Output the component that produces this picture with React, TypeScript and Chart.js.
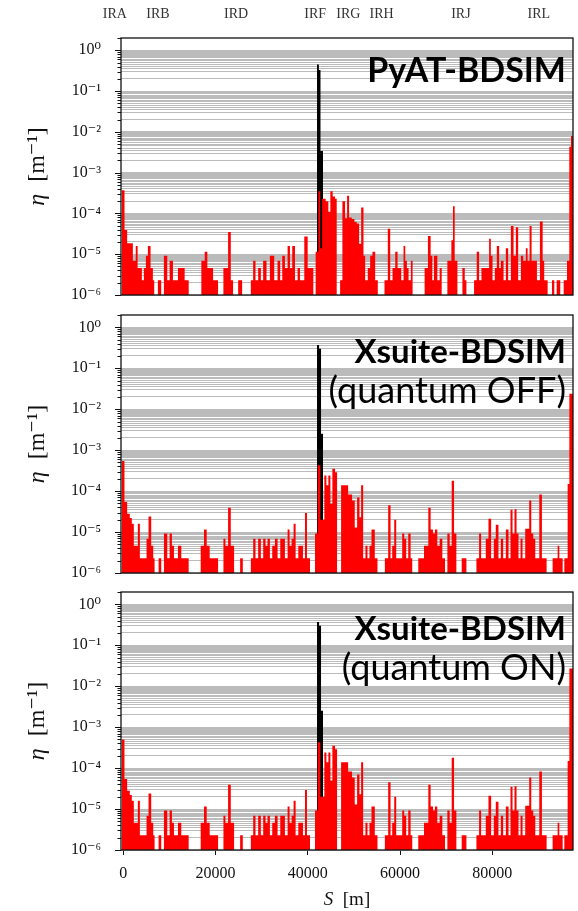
import React, { useEffect, useRef } from 'react';
import { Chart, registerables } from 'chart.js';

Chart.register(...registerables);

const X_MIN = -500;
const X_MAX = 97500;
const Y_MIN = 1e-6;
const Y_MAX = 2;

const xTickValues = [0, 20000, 40000, 60000, 80000];
const yTickValues = [1e-6, 1e-5, 1e-4, 1e-3, 1e-2, 1e-1, 1];
const yTickLabels = ['10⁻⁶', '10⁻⁵', '10⁻⁴', '10⁻³', '10⁻²', '10⁻¹', '10⁰'];
const gridFactors = [1, 2, 3, 3.5, 4, 4.5, 5, 5.5, 6, 6.5, 7, 7.5, 8, 8.5, 9, 9.5];
const irLabels = ['IRA', 'IRB', 'IRD', 'IRF', 'IRG', 'IRH', 'IRJ', 'IRL'];
const irPositions = [-1850, 7500, 24460, 41600, 48800, 56000, 73200, 90100];

// Panel 1 (PyAT-BDSIM): step edges in km, value held from each edge to the next
const red1Edges = [-0.30, 0.26, 0.83, 2.07, 2.70, 3.10, 4.02, 4.46, 4.90, 5.33,
  5.91, 6.41, 6.70, 7.50, 8.22, 8.80, 9.53, 10.04, 10.76, 11.85,
  13.30, 14.18, 16.92, 17.65, 18.22, 19.46, 20.54, 21.70, 22.72, 23.30,
  23.80, 24.90, 25.76, 27.65, 28.15, 28.66, 29.24, 29.82, 30.32, 31.05,
  31.78, 32.72, 33.44, 34.02, 34.46, 35.04, 35.62, 36.13, 36.63, 37.22,
  37.79, 38.30, 39.24, 39.97, 41.20, 41.70, 42.28, 42.70, 43.10, 43.88,
  44.46, 44.89, 45.40, 45.91, 46.27, 47.00, 47.50, 48.08, 48.52, 48.95,
  49.53, 50.11, 50.61, 51.13, 51.57, 52.07, 52.44, 53.00, 53.52, 54.02,
  54.61, 55.18, 56.63, 57.35, 57.87, 58.37, 58.96, 59.46, 60.26, 60.76,
  61.13, 61.48, 61.85, 62.35, 62.72, 65.33, 66.05, 66.63, 67.00, 67.35,
  68.09, 68.59, 69.03, 70.26, 71.13, 71.48, 71.85, 72.44, 73.52, 74.03,
  74.39, 76.05, 76.63, 77.14, 77.65, 79.31, 79.68, 80.05, 80.55, 80.98,
  81.49, 81.85, 82.44, 82.94, 83.44, 84.03, 84.61, 85.11, 85.61, 86.20,
  86.70, 87.28, 87.65, 88.09, 88.52, 89.68, 90.33, 90.92, 91.26, 92.00,
  92.94, 93.44, 93.96, 94.74, 95.48, 96.20, 96.70, 97.07, 97.50];
const red1Values = [3.7e-4, 3.9e-5, 1.85e-5, 6.9e-6, 1.6e-5, 4.6e-6, 2.3e-6, 4.6e-6, 9.2e-6, 1.6e-5,
  4.6e-6, 2.3e-6, 0, 2.3e-6, 0, 9.2e-6, 2.3e-6, 6.9e-6, 2.3e-6, 4.6e-6,
  2.3e-6, 0, 6.9e-6, 1.15e-5, 4.6e-6, 2.3e-6, 0, 4.6e-6, 3.5e-5, 2.3e-6,
  0, 2.3e-6, 0, 2.3e-6, 6.9e-6, 2.3e-6, 4.6e-6, 2.3e-6, 6.9e-6, 2.3e-6,
  9.2e-6, 2.3e-6, 6.9e-6, 2.3e-6, 9.2e-6, 4.6e-6, 1.6e-5, 4.6e-6, 1.6e-5, 2.3e-6,
  4.6e-6, 2.3e-6, 2.7e-5, 4.6e-6, 0, 1.15e-5, 3.5e-4, 1.4e-5, 2.3e-4, 2.0e-4,
  1.1e-4, 3.5e-4, 2.6e-4, 2.3e-4, 0, 2.3e-6, 2.0e-4, 7.6e-5, 2.7e-4, 8.0e-5,
  7.3e-5, 6.2e-5, 5.7e-5, 1.8e-5, 1.4e-4, 9.2e-6, 2.3e-6, 4.6e-6, 9.2e-6, 1.15e-5,
  2.3e-6, 0, 2.3e-6, 4.2e-5, 2.3e-6, 4.6e-6, 1.15e-5, 4.6e-6, 2.3e-6, 1.6e-5,
  6.9e-6, 4.6e-6, 2.3e-6, 6.9e-6, 0, 4.6e-6, 2.8e-5, 9.2e-6, 2.3e-6, 9.2e-6,
  2.3e-6, 4.6e-6, 0, 6.9e-6, 2.2e-5, 1.5e-4, 6.9e-6, 0, 4.6e-6, 2.3e-6,
  0, 2.3e-6, 1.15e-5, 2.3e-6, 4.6e-6, 2.4e-5, 9.2e-6, 2.3e-6, 4.6e-6, 1.6e-5,
  4.6e-6, 6.9e-6, 2.3e-6, 1.4e-5, 2.3e-6, 4.9e-5, 9.2e-6, 4.6e-5, 2.3e-6, 9.2e-6,
  6.9e-6, 1.4e-5, 6.9e-6, 4.9e-5, 6.9e-6, 2.3e-6, 6.3e-5, 6.9e-6, 2.3e-6, 0,
  2.3e-6, 0, 2.3e-6, 0, 2.3e-6, 6.9e-6, 4.3e-3, 7.9e-3, 0];
const black1Edges = [42.0, 42.4, 42.75, 43.3];
const black1Values = [0.45, 0.33, 3.4e-3, 0];

// Panel 2 (Xsuite-BDSIM, quantum OFF)
const red2Edges = [-0.33, 0.25, 0.83, 1.41, 1.85, 2.28, 3.15, 3.59, 5.04, 5.47,
  6.05, 6.49, 6.78, 7.65, 8.23, 8.81, 9.53, 10.04, 10.54, 10.98,
  11.85, 12.57, 14.17, 16.78, 17.50, 18.08, 18.73, 20.55, 21.71, 22.14,
  22.72, 23.30, 24.02, 25.33, 25.91, 27.65, 28.16, 28.66, 29.24, 29.82,
  30.33, 30.84, 31.27, 31.78, 32.29, 32.87, 33.45, 34.03, 35.04, 35.62,
  36.05, 36.49, 36.92, 37.36, 37.94, 38.95, 39.39, 39.82, 40.48, 41.56,
  42.14, 42.72, 43.59, 44.03, 44.46, 44.90, 45.33, 45.91, 46.35, 47.22,
  48.74, 49.60, 50.18, 50.69, 51.20, 51.56, 52.00, 52.50, 52.94, 53.37,
  53.81, 54.53, 55.11, 56.71, 57.43, 57.94, 58.30, 58.74, 59.17, 60.47,
  60.91, 61.34, 61.78, 62.29, 62.65, 63.95, 65.19, 66.13, 66.63, 67.14,
  67.58, 68.08, 68.59, 69.17, 69.75, 70.26, 70.76, 71.20, 71.71, 72.21,
  73.37, 74.39, 76.56, 77.14, 77.58, 78.59, 79.17, 79.75, 80.33, 80.76,
  81.34, 81.85, 82.36, 82.94, 83.52, 83.95, 84.39, 84.82, 85.26, 85.69,
  86.13, 86.56, 87.14, 88.01, 88.45, 88.88, 89.32, 90.19, 90.76, 91.78,
  93.08, 94.17, 94.53, 95.26, 95.62, 96.34, 96.71, 97.50];
const red2Values = [5.4e-4, 5.4e-5, 2.8e-5, 2.2e-5, 1.6e-5, 4.6e-6, 1.6e-5, 2.3e-6, 6.9e-6, 2.4e-5,
  4.6e-6, 2.3e-6, 0, 2.3e-6, 0, 9.2e-6, 2.3e-6, 9.2e-6, 4.6e-6, 2.3e-6,
  4.6e-6, 2.3e-6, 0, 4.6e-6, 1.15e-5, 4.6e-6, 2.3e-6, 0, 6.9e-6, 4.6e-6,
  3.9e-5, 4.6e-6, 0, 2.3e-6, 0, 2.3e-6, 6.9e-6, 2.3e-6, 6.9e-6, 2.3e-6,
  6.9e-6, 4.6e-6, 6.9e-6, 2.3e-6, 4.6e-6, 6.9e-6, 2.3e-6, 6.9e-6, 2.3e-6, 1.15e-5,
  4.6e-6, 6.9e-6, 1.6e-5, 2.3e-6, 4.6e-6, 2.3e-6, 2.9e-5, 2.3e-6, 0, 9.2e-6,
  4.3e-4, 2.0e-5, 2.4e-4, 1.4e-4, 2.4e-4, 4.9e-5, 3.5e-4, 2.9e-4, 0, 1.4e-4,
  8.3e-5, 5.9e-5, 1.3e-5, 7.0e-5, 2.3e-5, 1.4e-4, 2.3e-6, 4.6e-6, 2.3e-6, 4.6e-6,
  1.15e-5, 2.3e-6, 0, 2.3e-6, 4.5e-5, 2.3e-6, 4.6e-6, 2.0e-5, 2.3e-6, 9.2e-6,
  6.9e-6, 2.3e-6, 9.2e-6, 2.3e-6, 0, 2.3e-6, 4.6e-6, 3.9e-5, 1.15e-5, 9.2e-6,
  1.15e-5, 4.6e-6, 6.9e-6, 2.3e-6, 0, 9.2e-6, 4.6e-6, 1.8e-4, 9.2e-6, 0,
  2.3e-6, 0, 2.3e-6, 9.2e-6, 2.3e-6, 6.9e-6, 2.1e-5, 2.3e-6, 6.9e-6, 1.5e-5,
  2.3e-6, 6.9e-6, 2.3e-6, 1.15e-5, 2.3e-6, 3.5e-5, 9.2e-6, 3.6e-5, 9.2e-6, 2.3e-6,
  6.9e-6, 2.3e-6, 1.2e-5, 5.9e-5, 9.2e-6, 6.9e-6, 2.3e-6, 8.3e-5, 2.3e-6, 0,
  2.3e-6, 4.6e-6, 2.3e-6, 0, 2.3e-6, 1.5e-4, 2.4e-2, 0];
const black2Edges = [42.0, 42.45, 42.87, 43.3];
const black2Values = [0.37, 0.30, 2.5e-3, 0];

// Panel 3 (Xsuite-BDSIM, quantum ON)
const red3Edges = [-0.33, 0.25, 0.83, 1.41, 1.85, 2.28, 3.15, 3.59, 5.04, 5.47,
  6.05, 6.49, 6.78, 7.65, 8.23, 8.81, 9.53, 10.04, 10.54, 10.98,
  11.85, 12.57, 14.17, 16.78, 17.50, 18.08, 18.73, 20.55, 21.71, 22.14,
  22.72, 23.30, 24.02, 25.33, 25.91, 27.65, 28.16, 28.66, 29.24, 29.82,
  30.33, 30.84, 31.27, 31.78, 32.29, 32.87, 33.45, 34.03, 35.04, 35.62,
  36.05, 36.49, 36.92, 37.36, 37.94, 38.95, 39.39, 39.82, 40.48, 41.56,
  42.14, 42.72, 43.59, 44.03, 44.46, 44.90, 45.33, 45.91, 46.35, 47.22,
  48.74, 49.60, 50.18, 50.69, 51.20, 51.56, 52.00, 52.50, 52.94, 53.37,
  53.81, 54.53, 55.11, 56.71, 57.43, 57.94, 58.30, 58.74, 59.17, 60.47,
  60.91, 61.34, 61.78, 62.29, 62.65, 63.95, 65.19, 66.13, 66.63, 67.14,
  67.58, 68.08, 68.59, 69.17, 69.75, 70.26, 70.76, 71.20, 71.71, 72.21,
  73.37, 74.39, 76.56, 77.14, 77.58, 78.59, 79.17, 79.75, 80.33, 80.76,
  81.34, 81.85, 82.36, 82.94, 83.52, 83.95, 84.39, 84.82, 85.26, 85.69,
  86.13, 86.56, 87.14, 88.01, 88.45, 88.88, 89.32, 90.19, 90.76, 91.78,
  93.08, 94.17, 94.53, 95.26, 95.62, 96.34, 96.71, 97.50];
const red3Values = [5.0e-4, 5.4e-5, 2.8e-5, 2.2e-5, 1.6e-5, 4.6e-6, 1.6e-5, 2.3e-6, 6.9e-6, 2.4e-5,
  4.6e-6, 2.3e-6, 0, 2.3e-6, 0, 9.2e-6, 2.3e-6, 9.2e-6, 4.6e-6, 2.3e-6,
  4.6e-6, 2.3e-6, 0, 4.6e-6, 1.15e-5, 4.6e-6, 2.3e-6, 0, 6.9e-6, 4.6e-6,
  3.9e-5, 4.6e-6, 0, 2.3e-6, 0, 2.3e-6, 6.9e-6, 2.3e-6, 6.9e-6, 2.3e-6,
  6.9e-6, 4.6e-6, 6.9e-6, 2.3e-6, 4.6e-6, 6.9e-6, 2.3e-6, 6.9e-6, 2.3e-6, 1.15e-5,
  4.6e-6, 6.9e-6, 1.6e-5, 2.3e-6, 4.6e-6, 2.3e-6, 2.9e-5, 2.3e-6, 0, 9.2e-6,
  4.3e-4, 2.0e-5, 2.4e-4, 1.4e-4, 2.4e-4, 4.9e-5, 3.5e-4, 2.9e-4, 0, 1.4e-4,
  8.3e-5, 5.9e-5, 1.3e-5, 7.0e-5, 2.3e-5, 1.4e-4, 2.3e-6, 4.6e-6, 2.3e-6, 4.6e-6,
  1.15e-5, 2.3e-6, 0, 2.3e-6, 4.5e-5, 2.3e-6, 4.6e-6, 2.0e-5, 2.3e-6, 9.2e-6,
  6.9e-6, 2.3e-6, 9.2e-6, 2.3e-6, 0, 2.3e-6, 4.6e-6, 3.9e-5, 1.15e-5, 9.2e-6,
  1.15e-5, 4.6e-6, 6.9e-6, 2.3e-6, 0, 9.2e-6, 4.6e-6, 1.8e-4, 9.2e-6, 0,
  2.3e-6, 0, 2.3e-6, 9.2e-6, 2.3e-6, 6.9e-6, 2.1e-5, 2.3e-6, 6.9e-6, 1.5e-5,
  2.3e-6, 6.9e-6, 2.3e-6, 1.15e-5, 2.3e-6, 3.5e-5, 9.2e-6, 3.6e-5, 9.2e-6, 2.3e-6,
  6.9e-6, 2.3e-6, 1.2e-5, 5.9e-5, 9.2e-6, 6.9e-6, 2.3e-6, 8.3e-5, 2.3e-6, 0,
  2.3e-6, 4.6e-6, 2.3e-6, 0, 2.3e-6, 1.5e-4, 2.7e-2, 0];
const black3Edges = [42.0, 42.45, 42.87, 43.3];
const black3Values = [0.37, 0.30, 2.5e-3, 0];

const SERIF = '"Liberation Serif", "DejaVu Serif", serif';
const SANS = 'Lato, "Open Sans", sans-serif';

function toSteps(edgesKm: number[], values: number[]) {
  return edgesKm.map((e, i) => ({ x: e * 1000, y: values[i] > 0 ? values[i] : Y_MIN }));
}

function drawMixed(ctx: CanvasRenderingContext2D, parts: [string, string][], cx: number, cy: number, rotate: boolean) {
  ctx.save();
  ctx.translate(cx, cy);
  if (rotate) ctx.rotate(-Math.PI / 2);
  let total = 0;
  const widths = parts.map(([t, f]) => {
    ctx.font = f;
    const w = ctx.measureText(t).width;
    total += w;
    return w;
  });
  let x = -total / 2;
  ctx.textAlign = 'left';
  ctx.textBaseline = 'middle';
  ctx.fillStyle = '#111';
  parts.forEach(([t, f], i) => {
    ctx.font = f;
    ctx.fillText(t, x, 0);
    x += widths[i];
  });
  ctx.restore();
}

const zeroPad = (s: any) => {
  s.paddingTop = 0;
  s.paddingBottom = 0;
  s.paddingLeft = 0;
  s.paddingRight = 0;
};

type Line = { text: string; bold: boolean; dy: number; size: number };
type PanelProps = {
  top: number;
  height: number;
  padTop: number;
  padBottom: number;
  showTop: boolean;
  showBottom: boolean;
  redEdges: number[];
  redValues: number[];
  blackEdges: number[];
  blackValues: number[];
  lines: Line[];
};

function Panel(p: PanelProps) {
  const ref = useRef<HTMLCanvasElement>(null);
  useEffect(() => {
    const canvas = ref.current;
    if (!canvas) return;
    const decor = {
      id: 'decor',
      afterDraw(chart: any) {
        const { ctx, chartArea: a } = chart;
        const ys = chart.scales.y;
        ctx.save();
        ctx.strokeStyle = '#111';
        ctx.lineWidth = 1;
        for (let n = -6; n <= 0; n++) {
          for (let k = 1; k <= 9; k++) {
            const v = k * Math.pow(10, n);
            if (v < Y_MIN * 0.999 || v > Y_MAX * 1.001) continue;
            const py = Math.round(ys.getPixelForValue(v)) + 0.5;
            const len = k === 1 ? 6 : 3.5;
            ctx.beginPath();
            ctx.moveTo(a.left - len, py);
            ctx.lineTo(a.left, py);
            ctx.stroke();
          }
        }
        ctx.lineWidth = 1.3;
        ctx.strokeRect(a.left, a.top, a.right - a.left, a.bottom - a.top);
        drawMixed(ctx, [['η', `italic 24px ${SERIF}`], ['  [m⁻¹]', `24px ${SERIF}`]], 38, (a.top + a.bottom) / 2, true);
        if (p.showBottom) {
          drawMixed(ctx, [['S', `italic 19px ${SERIF}`], ['  [m]', `19px ${SERIF}`]], (a.left + a.right) / 2, a.bottom + 50, false);
        }
        ctx.fillStyle = '#000';
        ctx.textAlign = 'right';
        ctx.textBaseline = 'alphabetic';
        p.lines.forEach((l) => {
          ctx.font = `${l.bold ? 'bold ' : ''}${l.size}px ${SANS}`;
          ctx.fillText(l.text, a.right - 7, a.top + l.dy);
        });
        ctx.restore();
      },
    };

    const scales: any = {
      x: {
        type: 'linear',
        min: X_MIN,
        max: X_MAX,
        display: p.showBottom,
        afterBuildTicks: (s: any) => {
          s.ticks = xTickValues.map((v) => ({ value: v }));
        },
        afterFit: (s: any) => {
          if (p.showBottom) s.height = 61;
          zeroPad(s);
        },
        ticks: {
          autoSkip: false,
          maxRotation: 0,
          padding: 9,
          color: '#111',
          font: { family: SERIF, size: 16 },
          callback: (v: any) => String(v),
        },
        grid: { display: true, drawOnChartArea: false, drawTicks: true, tickLength: 5, tickColor: '#111', lineWidth: 1 },
        border: { display: false },
      },
      y: {
        type: 'logarithmic',
        min: Y_MIN,
        max: Y_MAX,
        position: 'left',
        afterBuildTicks: (s: any) => {
          const t: any[] = [];
          for (let n = -6; n <= 0; n++) {
            gridFactors.forEach((k) => {
              const v = k * Math.pow(10, n);
              if (v <= 1.0001) t.push({ value: v });
            });
          }
          s.ticks = t;
        },
        afterFit: (s: any) => {
          s.width = 121;
          zeroPad(s);
        },
        ticks: {
          autoSkip: false,
          padding: 20,
          color: '#111',
          font: { family: SERIF, size: 16 },
          callback: (v: any) => {
            const i = yTickValues.findIndex((t) => Math.abs(t - v) / t < 1e-6);
            return i >= 0 ? yTickLabels[i] : '';
          },
        },
        grid: { color: '#bbbbbb', lineWidth: 1, drawTicks: false },
        border: { display: false },
      },
    };
    if (p.showTop) {
      scales.x2 = {
        type: 'linear',
        position: 'top',
        min: X_MIN,
        max: X_MAX,
        afterBuildTicks: (s: any) => {
          s.ticks = irPositions.map((v) => ({ value: v }));
        },
        afterFit: (s: any) => {
          s.height = 38;
          zeroPad(s);
        },
        ticks: {
          autoSkip: false,
          maxRotation: 0,
          padding: 15,
          color: '#333',
          font: { family: SERIF, size: 14 },
          callback: (v: any) => {
            const i = irPositions.indexOf(v);
            return i >= 0 ? irLabels[i] : '';
          },
        },
        grid: { display: false, drawTicks: false },
        border: { display: false },
      };
    }

    const chart = new Chart(canvas, {
      type: 'line',
      data: {
        datasets: [
          {
            data: toSteps(p.redEdges, p.redValues),
            stepped: 'before',
            fill: 'start',
            backgroundColor: '#ff0000',
            borderColor: 'rgba(0,0,0,0)',
            borderWidth: 0,
            pointRadius: 0,
          },
          {
            data: toSteps(p.blackEdges, p.blackValues),
            stepped: 'before',
            fill: 'start',
            backgroundColor: '#000000',
            borderColor: 'rgba(0,0,0,0)',
            borderWidth: 0,
            pointRadius: 0,
          },
        ],
      } as any,
      options: {
        responsive: false,
        maintainAspectRatio: false,
        animation: false,
        devicePixelRatio: 1,
        events: [],
        layout: { padding: { left: 0, right: 5, top: p.padTop, bottom: p.padBottom } },
        plugins: { legend: { display: false }, tooltip: { enabled: false }, title: { display: false } },
        scales,
      } as any,
      plugins: [decor],
    });
    return () => chart.destroy();
  }, []);
  return (
    <canvas
      ref={ref}
      width={578}
      height={p.height}
      style={{ position: 'absolute', left: 0, top: p.top, width: 578, height: p.height }}
    />
  );
}

export default function App() {
  return (
    <div style={{ position: 'absolute', left: 0, top: 0, width: 578, height: 911, background: '#fff' }}>
      <Panel
        top={0}
        height={300}
        padTop={0}
        padBottom={5}
        showTop={true}
        showBottom={false}
        redEdges={red1Edges}
        redValues={red1Values}
        blackEdges={black1Edges}
        blackValues={black1Values}
        lines={[{ text: 'PyAT-BDSIM', bold: true, dy: 44, size: 34 }]}
      />
      <Panel
        top={300}
        height={278}
        padTop={15}
        padBottom={5}
        showTop={false}
        showBottom={false}
        redEdges={red2Edges}
        redValues={red2Values}
        blackEdges={black2Edges}
        blackValues={black2Values}
        lines={[
          { text: 'Xsuite-BDSIM', bold: true, dy: 48, size: 33 },
          { text: '(quantum OFF)', bold: false, dy: 88, size: 36 },
        ]}
      />
      <Panel
        top={578}
        height={333}
        padTop={14}
        padBottom={0}
        showTop={false}
        showBottom={true}
        redEdges={red3Edges}
        redValues={red3Values}
        blackEdges={black3Edges}
        blackValues={black3Values}
        lines={[
          { text: 'Xsuite-BDSIM', bold: true, dy: 48, size: 33 },
          { text: '(quantum ON)', bold: false, dy: 88, size: 36 },
        ]}
      />
    </div>
  );
}
